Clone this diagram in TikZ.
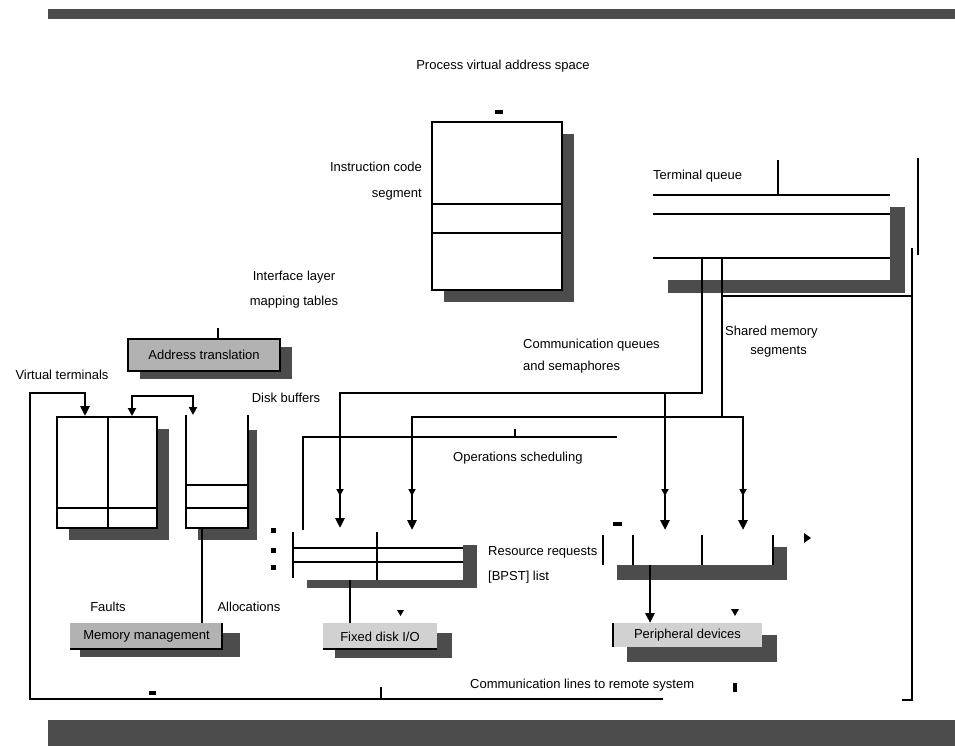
\documentclass[tikz,border=0pt]{standalone}
\usepackage{fontspec}
\setmainfont{Liberation Sans}
\usetikzlibrary{arrows.meta}
\begin{document}
\begin{tikzpicture}[x=1pt,y=-1pt,
  ln/.style={line width=2.8pt},
  arr/.style={-{Triangle[length=10pt,width=9pt]}},
  arrs/.style={-{Triangle[length=7pt,width=7pt]}},
  both/.style={{Triangle[length=8pt,width=8pt]}-{Triangle[length=8pt,width=8pt]}},
  shd/.style={fill=black!70},
  barc/.style={fill=black!70},
  box/.style={draw, line width=2.8pt, fill=white, inner sep=0pt},
  gbox/.style={fill=black!30, inner sep=0pt, font=\fontsize{13}{15}\selectfont},
  lbox/.style={fill=black!18, inner sep=0pt, font=\fontsize{13}{15}\selectfont},
  txt/.style={inner sep=0pt, font=\fontsize{13}{15}\selectfont},
  mk/.style={fill=black}]
\useasboundingbox (0,0) rectangle (955,746);
% bars
\fill[barc] (48,9) rectangle (955,19);
\fill[barc] (48,720) rectangle (955,746);
% title
\node[txt] (title) at (503,66) {Process virtual address space};
\fill[mk] (495,110) rectangle (503,114);
% central process box
\fill[shd] (444,134) rectangle (574,302);
\node[box, minimum width=130pt, minimum height=168pt] (proc) at (497,206) {};
\draw[ln] (432,204) -- (562,204);
\draw[ln] (432,233) -- (562,233);
\node[txt, anchor=east] (instr1) at (422,167) {Instruction code};
\node[txt, anchor=east] (instr2) at (422,195) {segment};
\node[txt] (if1) at (294,277) {Interface layer};
\node[txt] (if2) at (294,302) {mapping tables};
% address box
\fill[shd] (140,347) rectangle (292,379);
\node[gbox, draw, line width=2.8pt, minimum width=152pt, minimum height=32pt] (addr) at (204,355) {Address translation};
\draw[ln] ([xshift=14pt]addr.north) -- ++(0,-10);
\node[txt] (vt) at (62,375) {Virtual terminals};
% left two-column box
\fill[shd] (69,429) rectangle (169,540);
\node[box, minimum width=100pt, minimum height=111pt] (lbx) at (107,472.5) {};
\draw[ln] (108,417) -- (108,528);
\draw[ln] (57,508) -- (157,508);
% second (open) box
\fill[shd] (198,430) rectangle (257,540);
\fill[white] (186,415) rectangle (248,528);
\draw[ln] (186,415) -- (186,528) -- (248,528) -- (248,415);
\draw[ln] (186,485) -- (248,485);
\draw[ln] (186,508) -- (248,508);
\coordinate (sbx) at (202,528);
\node[txt] (dbuf) at (286,398) {Disk buffers};
% outer loop
\draw[ln, arr] (663,699) -- (30,699) -- (30,393) -- (85,393) -- (85,416);
\draw[ln, both] (132,416) -- (132,396) -- (193,396) -- (193,415);
% memory box
\fill[shd] (80,633) rectangle (240,657);
\node[gbox, minimum width=153pt, minimum height=27pt] (mem) at (146.5,636.5) {Memory management};
\draw[ln] (70,649) -- (222,649) -- (222,623);
\draw[ln] (sbx) -- (202,623);
\node[txt] (flt) at (108,607) {Faults};
\node[txt] (alc) at (249,607) {Allocations};
% right register
\fill[shd] (668,207) rectangle (905,293);
\fill[white] (653,195) rectangle (890,280);
\node[inner sep=0pt, minimum width=237pt, minimum height=85pt] (reg) at (771.5,237.5) {};
\draw[ln] (653,195) -- (890,195);
\draw[ln] (653,214) -- (890,214);
\draw[ln] (653,258) -- (890,258);
\node[txt, anchor=west] (tq) at (653,176) {Terminal queue};
\draw[ln] (778,160) -- (778,195);
\draw[ln] (918,158) -- (918,255);
\draw[ln] (912,248) -- (912,700) -- (902,700);
\draw[ln] (722,296) -- (912,296);
% routed connectors
\draw[ln, arr] (702,258) -- (702,393) -- (340,393) -- (340,528);
\draw[ln, arr] (665,393) -- (665,530);
\draw[ln, arr] (722,258) -- (722,417) -- (412,417) -- (412,530);
\draw[ln, arr] (722,417) -- (743,417) -- (743,530);
\draw[ln] (303,530) -- (303,437) -- (617,437);
\draw[ln] (515,429) -- (515,437);
\foreach \x in {340,412,665,743} \draw[ln, arrs] (\x,482) -- (\x,496);
\node[txt, anchor=west] (cq1) at (523,345) {Communication queues};
\node[txt, anchor=west] (cq2) at (523,367) {and semaphores};
\node[txt, anchor=west] (sm1) at (725,332) {Shared memory};
\node[txt, anchor=east] (sm2) at (807,352) {segments};
\node[txt, anchor=west] (ops) at (453,458) {Operations scheduling};
% left request structure
\fill[shd] (307,545) rectangle (477,588);
\fill[white] (293,532) rectangle (463,580);
\node[inner sep=0pt, minimum width=170pt, minimum height=48pt] (rq) at (378,556) {};
\draw[ln] (293,532) -- (293,578);
\draw[ln] (293,548) -- (463,548);
\draw[ln] (293,562) -- (463,562);
\draw[ln] (377,532) -- (377,580);
\fill[mk] (271,528) rectangle (276,533);
\fill[mk] (271,548) rectangle (276,553);
\fill[mk] (271,565) rectangle (276,570);
\node[txt, anchor=west] (rr1) at (488,552) {Resource requests};
\node[txt, anchor=west] (rr2) at (488,577) {[BPST] list};
% fixed disk box
\fill[shd] (335,633) rectangle (452,658);
\node[lbox, minimum width=114pt, minimum height=27pt] (fix) at (380,636.5) {Fixed disk I/O};
\draw[ln] (323,649) -- (437,649);
\draw[ln] (350,580) -- (350,623);
\fill[mk] (397,610) -- (404,610) -- (400.5,616) -- cycle;
% right structure
\fill[shd] (617,547) rectangle (787,580);
\fill[white] (603,535) rectangle (773,565);
\node[inner sep=0pt, minimum width=170pt, minimum height=30pt] (rs) at (688,550) {};
\foreach \x in {603,633,702,773} \draw[ln] (\x,535) -- (\x,565);
\fill[mk] (613,522) rectangle (622,526);
\fill[mk] (804,533) -- (811,538) -- (804,543) -- cycle;
% printer box
\fill[shd] (627,635) rectangle (777,662);
\node[lbox, minimum width=149pt, minimum height=24pt] (prn) at (687.5,635) {Peripheral devices};
\draw[ln] (613,623) -- (613,647);
\draw[ln, arr] (650,565) -- (650,623);
\fill[mk] (731,609) -- (739,609) -- (735,616) -- cycle;
% bottom
\draw[ln] (381,687) -- (381,699);
\fill[mk] (149,691) rectangle (156,695);
\node[txt, anchor=west] (cap) at (470,685) {Communication lines to remote system};
\fill[mk] (733,683) rectangle (737,692);
\end{tikzpicture}
\end{document}
